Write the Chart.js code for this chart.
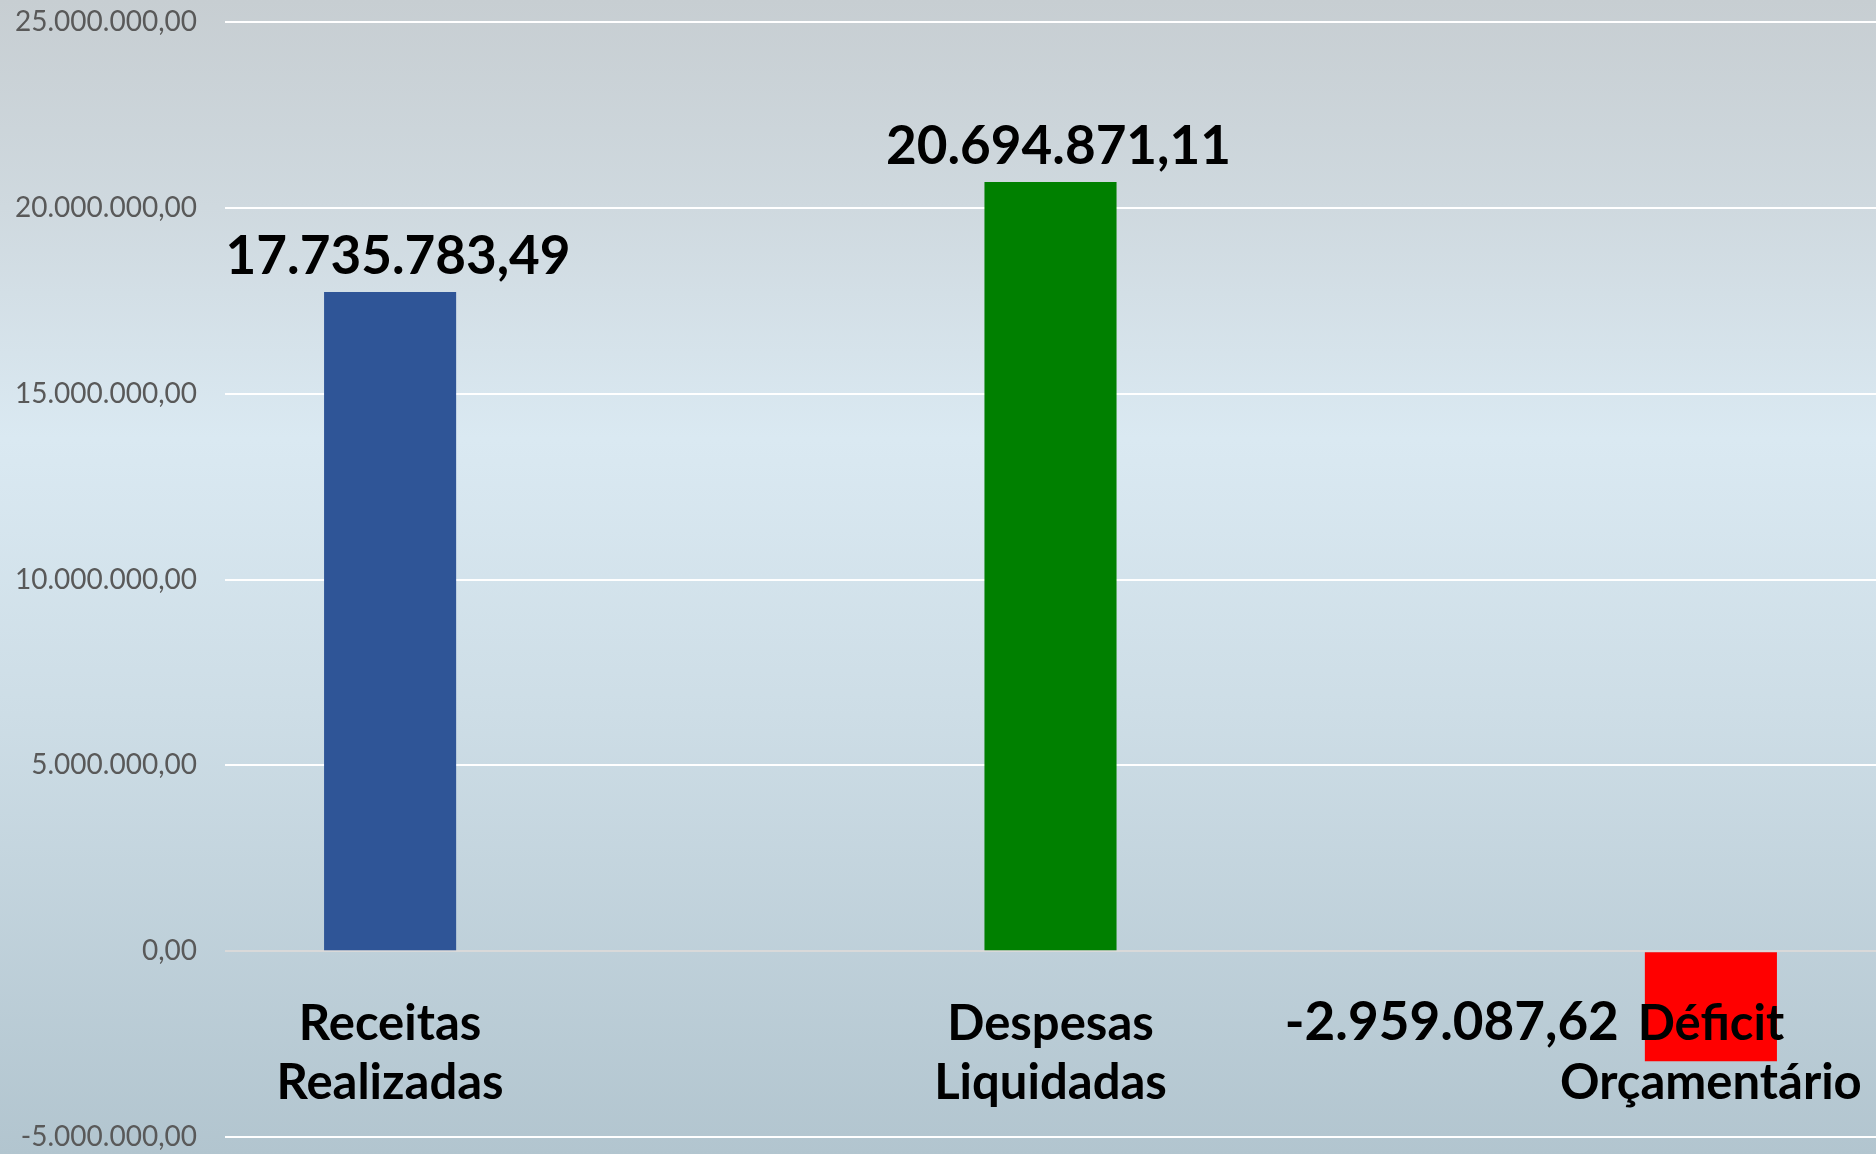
<!DOCTYPE html>
<html lang="pt-BR">
<head>
<meta charset="utf-8">
<title>Resultado Orçamentário</title>
<script src="https://cdn.jsdelivr.net/npm/chart.js@4/dist/chart.umd.min.js"></script>
<style>
    html, body {
        margin: 0;
        padding: 0;
        overflow: hidden;
    }
    #wrap {
        width: 1876px;
        height: 1154px;
        background: linear-gradient(to bottom, #c7ced2 0%, #cfd9df 18%, #dae9f2 38%, #cddde6 62%, #b2c5cf 100%);
    }
</style>
</head>
<body>
<div id="wrap"><canvas id="chart"></canvas></div>
<script>
// Dados do gráfico
const categories = [
    ['Receitas', 'Realizadas'],
    ['Despesas', 'Liquidadas'],
    ['Déficit', 'Orçamentário']
];
const values = [17735783.49, 20694871.11, -2959087.62];
const barColors = ['#2f5597', '#008000', '#ff0000'];
const yTicks = [-5000000, 0, 5000000, 10000000, 15000000, 20000000, 25000000];

// formato pt-BR: 1.234.567,89
function formatBR(v) {
    const neg = v < 0;
    const parts = Math.abs(v).toFixed(2).split('.');
    const intPart = parts[0].replace(/\B(?=(\d{3})+(?!\d))/g, '.');
    return (neg ? '-' : '') + intPart + ',' + parts[1];
}

// rótulos de valor sobre as barras
const valueLabels = {
    id: 'valueLabels',
    afterDatasetsDraw(chart) {
        const ctx = chart.ctx;
        const meta = chart.getDatasetMeta(0);
        ctx.save();
        ctx.font = 'bold 53px Lato';
        ctx.fillStyle = '#000000';
        meta.data.forEach((bar, i) => {
            const v = values[i];
            const text = formatBR(v);
            if (v >= 0) {
                ctx.textAlign = 'center';
                ctx.textBaseline = 'alphabetic';
                ctx.fillText(text, bar.x + 8, bar.y - 18);
            } else {
                ctx.textAlign = 'right';
                ctx.textBaseline = 'middle';
                ctx.fillText(text, bar.x - bar.width / 2 - 26, (bar.y + bar.base) / 2 + 16);
            }
        });
        ctx.restore();
    }
};

const ctx = document.getElementById('chart').getContext('2d');
new Chart(ctx, {
    type: 'bar',
    data: {
        datasets: [{
            data: values.map((v, i) => ({ x: i, y: v })),
            backgroundColor: barColors,
            borderWidth: 0,
            barPercentage: 0.2,
            categoryPercentage: 1
        }]
    },
    options: {
        responsive: true,
        maintainAspectRatio: false,
        animation: false,
        layout: {
            padding: 0
        },
        plugins: {
            legend: { display: false },
            tooltip: { enabled: false }
        },
        scales: {
            x: {
                type: 'linear',
                min: -0.25,
                max: 2.25,
                offset: false,
                position: { y: 0 },
                afterBuildTicks: axis => {
                    axis.ticks = categories.map((_, i) => ({ value: i }));
                },
                afterFit: axis => {
                    axis.paddingLeft = 0;
                    axis.paddingRight = 0;
                },
                grid: { display: false, drawTicks: false },
                border: { display: false },
                ticks: {
                    z: 1,
                    autoSkip: false,
                    maxRotation: 0,
                    padding: 44,
                    color: '#000000',
                    font: { family: 'Lato', size: 49, weight: 'bold', lineHeight: 1.2 },
                    callback: value => categories[value]
                }
            },
            y: {
                min: -5000000,
                max: 25000000,
                afterBuildTicks: axis => {
                    axis.ticks = yTicks.map(v => ({ value: v }));
                },
                afterFit: axis => {
                    axis.width = 225;
                    axis.paddingTop = 22;
                    axis.paddingBottom = 17;
                },
                grid: {
                    drawTicks: false,
                    lineWidth: 2,
                    color: c => (c.tick && c.tick.value === 0 ? '#d9d9d9' : '#ffffff')
                },
                border: { display: false },
                ticks: {
                    padding: 28,
                    color: '#595959',
                    font: { family: 'Lato', size: 28 },
                    callback: value => formatBR(value)
                }
            }
        }
    },
    plugins: [valueLabels]
});
</script>
</body>
</html>
